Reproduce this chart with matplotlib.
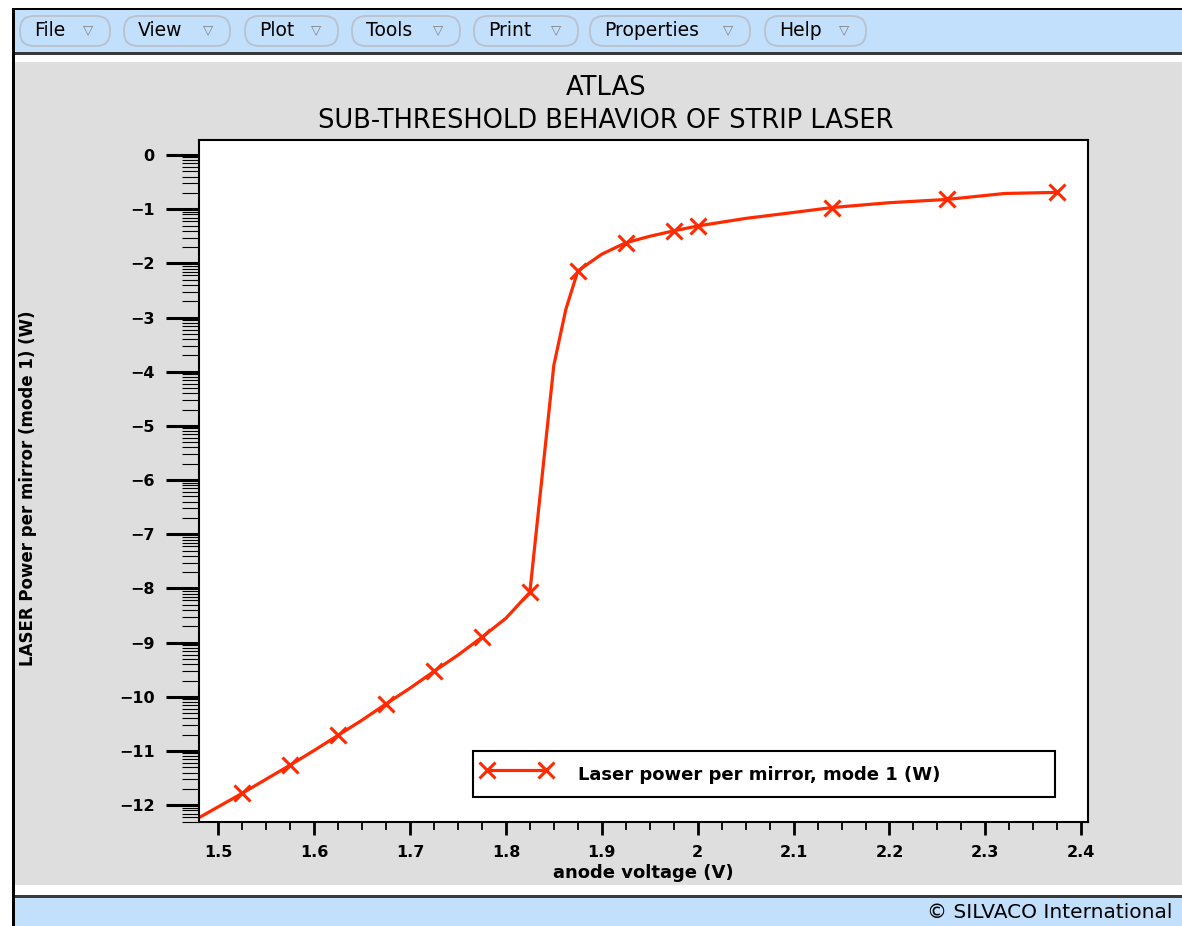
import numpy as np
import matplotlib
matplotlib.use("Agg")
import matplotlib.pyplot as plt
from matplotlib.patches import Rectangle, FancyBboxPatch
from matplotlib.lines import Line2D
from matplotlib.ticker import MultipleLocator, FixedLocator, FuncFormatter

# ---------------- data ----------------
voltage = [1.48, 1.5, 1.525, 1.55, 1.575, 1.6, 1.625, 1.65, 1.675, 1.7,
           1.725, 1.75, 1.775, 1.8, 1.825, 1.85, 1.8625, 1.875, 1.9, 1.925,
           1.95, 1.975, 2.0, 2.05, 2.1, 2.14, 2.2, 2.26, 2.32, 2.375]
laser_power = [-12.23, -12.03, -11.78, -11.52, -11.26, -10.99, -10.71, -10.43, -10.13, -9.84,
               -9.53, -9.23, -8.90, -8.55, -8.07, -3.88, -2.85, -2.14, -1.83, -1.62,
               -1.50, -1.40, -1.31, -1.17, -1.06, -0.97, -0.88, -0.82, -0.71, -0.69]
marked_points = [2, 4, 6, 8, 10, 12, 14, 17, 19, 21, 22, 25, 27, 29]
x_ticks = [1.5, 1.6, 1.7, 1.8, 1.9, 2.0, 2.1, 2.2, 2.3, 2.4]
y_ticks = [0, -1, -2, -3, -4, -5, -6, -7, -8, -9, -10, -11, -12]
title_lines = ["ATLAS", "SUB-THRESHOLD BEHAVIOR OF STRIP LASER"]
x_label = "anode voltage (V)"
y_label = "LASER Power per mirror (mode 1) (W)"
legend_label = "Laser power per mirror, mode 1 (W)"
menu_items = ["File", "View", "Plot", "Tools", "Print", "Properties", "Help"]
footer_text = "\u00a9 SILVACO International"

# ---------------- layout / style ----------------
W, H = 1182, 926
RED = "#ff2a00"
GRAY = "#dedede"
BLUE = "#c2dffb"
menu_spans = [(20, 110), (124, 230), (245, 338), (352, 460), (474, 578), (590, 750), (765, 866)]

plt.rcParams["font.family"] = ["DejaVu Sans"]
fig = plt.figure(figsize=(W / 100, H / 100), dpi=100)
fig.patch.set_facecolor(GRAY)


def prect(x0, y0, x1, y1, color, z=-5):
    fig.add_artist(Rectangle((x0 / 100, (H - y1) / 100), (x1 - x0) / 100, (y1 - y0) / 100,
                             transform=fig.dpi_scale_trans, facecolor=color,
                             edgecolor="none", zorder=z))


def ftext(x, y, s, **kw):
    return fig.text(x / W, 1 - y / H, s, **kw)


# window chrome
prect(0, 0, W, 8, "white")
prect(0, 0, 12, H, "white")
prect(12, 8, W, 10, "black")
prect(12, 8, 15, H, "black")
prect(15, 10, W, 52, BLUE)
prect(15, 52, W, 55, "#3a3a3a")
prect(15, 55, W, 62, "white")
prect(15, 885, W, 895, "white")
prect(15, 895, W, 898, "#3a3a3a")
prect(15, 898, W, H, BLUE)

for (x0, x1), name in zip(menu_spans, menu_items):
    fig.add_artist(FancyBboxPatch((x0 / 100, (H - 46) / 100), (x1 - x0) / 100, 0.30,
                                  boxstyle="round,pad=0,rounding_size=0.14",
                                  transform=fig.dpi_scale_trans, facecolor="none",
                                  edgecolor="#b9c2cc", linewidth=1.3, zorder=-4))
    ftext(x0 + 14, 30, name, ha="left", va="center", fontsize=13.5, color="black")
    ftext(x1 - 22, 31, "\u25bd", ha="center", va="center", fontsize=9.5, color="#808080")

ftext(927, 913, footer_text, ha="left", va="center", fontsize=14.5, color="black")

# titles
ftext(606, 88, title_lines[0], ha="center", va="center", fontsize=18.5)
ftext(606, 121, title_lines[1], ha="center", va="center", fontsize=18.5)

# axes
ax = fig.add_axes([199 / W, (H - 822) / H, 889 / W, 682 / H])
ax.set_facecolor("white")
ax.plot(voltage, laser_power, color=RED, lw=2.3, marker="x", ms=12, mew=2.2,
        markevery=marked_points, solid_joinstyle="round")
ax.set_xlim(1.48, 2.407)
ax.set_ylim(-12.31, 0.277)

for sp in ax.spines.values():
    sp.set_linewidth(1.5)
    sp.set_color("black")

fmt = FuncFormatter(lambda v, _: ("%g" % round(v, 6)).replace("-", "\u2212"))
ax.xaxis.set_major_locator(FixedLocator(x_ticks))
ax.xaxis.set_minor_locator(MultipleLocator(0.025))
ax.yaxis.set_major_locator(FixedLocator(y_ticks))
minor_y = [n + np.log10(k) for n in range(-13, 1) for k in range(2, 10)]
minor_y = [v for v in minor_y if -12.31 <= v <= 0.277]
ax.yaxis.set_minor_locator(FixedLocator(minor_y))
ax.xaxis.set_major_formatter(fmt)
ax.yaxis.set_major_formatter(fmt)

ax.tick_params(axis="x", which="major", direction="out", length=9.6, width=2.0, pad=7)
ax.tick_params(axis="x", which="minor", direction="out", length=5.5, width=1.3)
ax.tick_params(axis="y", which="major", direction="out", length=23.5, width=2.2, pad=8.5)
ax.tick_params(axis="y", which="minor", direction="out", length=11.9, width=0.8)
for lab in ax.get_xticklabels() + ax.get_yticklabels():
    lab.set_fontweight("bold")
    lab.set_fontsize(11.5)

ax.set_xlabel(x_label, fontsize=13, fontweight="bold")
ax.xaxis.label.set_verticalalignment("center")
ax.xaxis.set_label_coords(0.5, (822 - 873) / 682)
ax.set_ylabel(y_label, fontsize=12, fontweight="bold")
ax.yaxis.label.set_verticalalignment("center")
ax.yaxis.set_label_coords((28 - 199) / 889, (822 - 488) / 682)

proxy = Line2D([], [], color=RED, lw=2.3, marker="x", ms=12, mew=2.2)
leg = ax.legend([proxy], [legend_label], loc="center left",
                bbox_to_anchor=((473 - 199) / 889, (822 - 800) / 682, 582 / 889, 52 / 682),
                mode="expand", borderaxespad=0, borderpad=0.5, handleheight=2.0,
                handlelength=3.85, handletextpad=1.45, numpoints=2, fancybox=False,
                framealpha=1, edgecolor="black", facecolor="white",
                prop={"weight": "bold", "size": 13})
leg.get_frame().set_linewidth(1.5)

fig.savefig("out.png", dpi=100, facecolor=fig.get_facecolor())
